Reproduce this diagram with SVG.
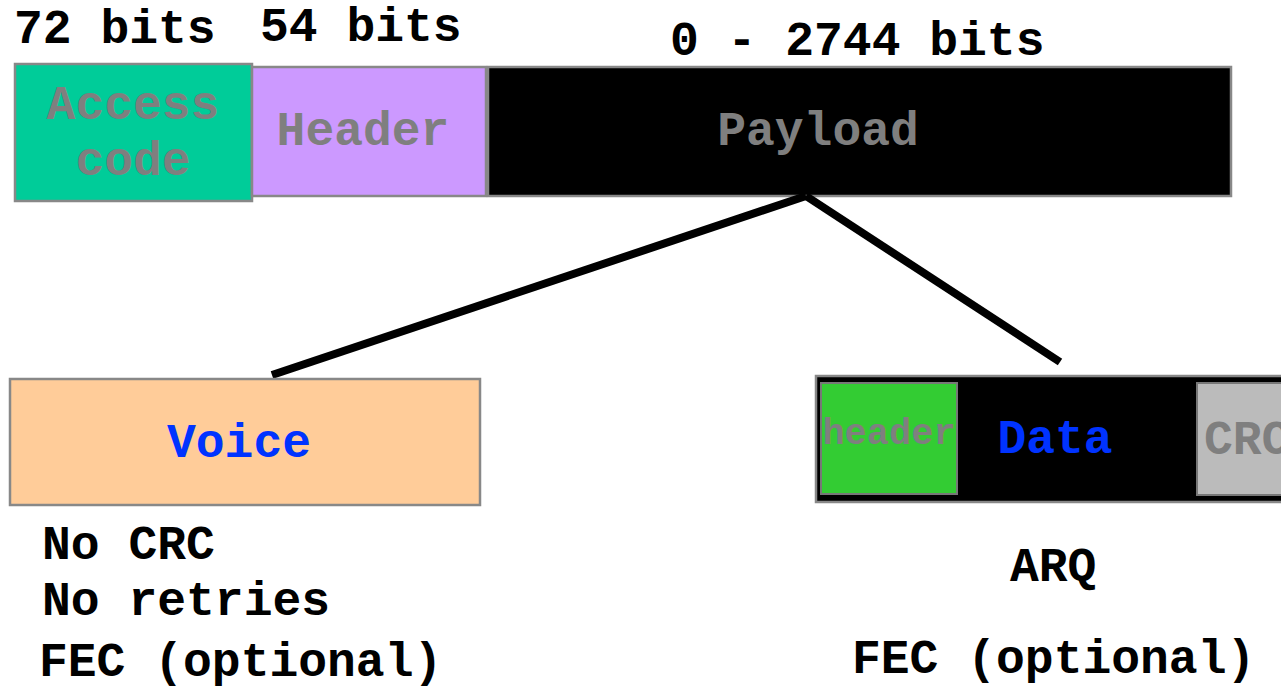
<svg xmlns="http://www.w3.org/2000/svg" width="1281" height="691" viewBox="0 0 1281 691">
  <style>
    text { font-family: "Liberation Mono", "Courier New", monospace; font-weight: bold; }
    .big { font-size: 48px; }
    .lbl { fill: #7f7f7f; }
    .blue { fill: #0033ff; }
    .ink { fill: #000000; }
    .box { stroke: #888888; stroke-width: 2.5; }
    .link { stroke: #000000; stroke-width: 8; fill: none; }
  </style>

  <!-- field widths -->
  <text class="big ink" x="14" y="43">72 bits</text>
  <text class="big ink" x="260" y="41">54 bits</text>
  <text class="big ink" x="670" y="55">0 - 2744 bits</text>

  <!-- packet fields -->
  <g id="access-code">
    <rect class="box" x="15" y="64" width="237" height="137" fill="#00cc99"/>
    <text class="big lbl" x="133" y="119" text-anchor="middle">Access</text>
    <text class="big lbl" x="133" y="175" text-anchor="middle">code</text>
  </g>
  <g id="header">
    <rect class="box" x="252" y="67" width="234" height="129" fill="#cc99ff"/>
    <text class="big lbl" x="363" y="145" text-anchor="middle">Header</text>
  </g>
  <g id="payload">
    <rect class="box" x="488" y="67" width="743" height="129" fill="#000000"/>
    <text class="big lbl" x="818" y="145" text-anchor="middle">Payload</text>
  </g>

  <!-- split of the payload -->
  <g id="connectors">
    <line class="link" x1="806" y1="196" x2="272" y2="375"/>
    <line class="link" x1="806" y1="196" x2="1060" y2="362"/>
  </g>

  <g id="voice">
    <rect class="box" x="10" y="379" width="470" height="126" fill="#ffcc99"/>
    <text class="big blue" x="239" y="457" text-anchor="middle">Voice</text>
  </g>

  <g id="data">
    <rect class="box" x="816" y="376" width="470" height="126" fill="#000000"/>
    <rect x="821" y="383" width="136" height="111" fill="#33cc33" stroke="#777777" stroke-width="2"/>
    <text class="lbl" x="889" y="444" text-anchor="middle" style="font-size:37px">header</text>
    <text class="big blue" x="1055" y="453" text-anchor="middle">Data</text>
    <rect x="1197" y="383" width="90" height="112" fill="#bbbbbb" stroke="#777777" stroke-width="2"/>
    <text class="big lbl" x="1204" y="454">CRC</text>
  </g>

  <!-- properties -->
  <g id="voice-notes">
    <text class="big ink" x="42" y="559">No CRC</text>
    <text class="big ink" x="42" y="615">No retries</text>
    <text class="big ink" x="39" y="676">FEC (optional)</text>
  </g>
  <g id="data-notes">
    <text class="big ink" x="1010" y="581">ARQ</text>
    <text class="big ink" x="852" y="673">FEC (optional)</text>
  </g>
</svg>
